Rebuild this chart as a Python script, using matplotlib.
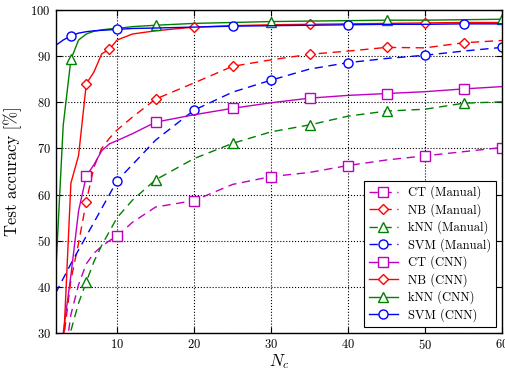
import matplotlib
matplotlib.use("Agg")
import matplotlib.pyplot as plt

plt.rcParams['font.family'] = ['cmr10', 'DejaVu Serif']
plt.rcParams['mathtext.fontset'] = 'cm'
plt.rcParams['axes.unicode_minus'] = False
plt.rcParams['axes.formatter.use_mathtext'] = True

# number of components N_c
n_c = [2, 3, 4, 5, 6, 7, 8, 9, 10, 12, 15, 20, 25, 30, 35, 40, 45, 50, 55, 60]

# test accuracy [%]
ct_manual = [10, 22, 34, 40.5, 45, 47.3, 48.8, 50, 51, 54, 57.3, 58.7, 62.2, 63.9, 64.8, 66.3, 67.5, 68.4, 69.3, 70.2]
nb_manual = [5, 28, 41.5, 49.5, 58.5, 66, 70, 72.2, 74, 76.8, 80.7, 84.2, 87.8, 89.2, 90.4, 91.1, 91.9, 91.8, 92.9, 93.4]
knn_manual = [0, 15, 30.5, 36.5, 41.1, 45.5, 49, 52, 55, 58.8, 63.2, 67.8, 71.1, 73.6, 75.1, 77, 78.1, 78.5, 79.8, 80.1]
svm_manual = [38.6, 41.8, 45, 48, 51, 54, 57, 60, 63, 66.5, 71.8, 78.3, 82.2, 84.8, 87.2, 88.6, 89.5, 90.2, 91.1, 91.9]
ct_cnn = [15, 30, 42.5, 56.5, 64, 66.5, 69.5, 71, 71.7, 73.2, 75.7, 77.3, 78.7, 79.9, 80.9, 81.5, 81.9, 82.3, 82.9, 83.4]
nb_cnn = [0, 26, 62.5, 68.5, 84, 86.6, 90.5, 91.5, 93.5, 94.8, 95.5, 96.3, 96.6, 96.8, 96.9, 97.0, 97.1, 97.2, 97.3, 97.3]
knn_cnn = [42, 75, 89.3, 93.5, 94.8, 95.4, 95.7, 95.9, 96.0, 96.4, 96.7, 97.1, 97.3, 97.5, 97.6, 97.7, 97.8, 97.8, 97.9, 98.0]
svm_cnn = [92.3, 93.5, 94.4, 95.0, 95.3, 95.5, 95.6, 95.7, 95.8, 96.0, 96.1, 96.3, 96.5, 96.6, 96.7, 96.8, 96.9, 96.9, 97.0, 97.0]

labels = ['CT (Manual)', 'NB (Manual)', 'kNN (Manual)', 'SVM (Manual)',
          'CT (CNN)', 'NB (CNN)', 'kNN (CNN)', 'SVM (CNN)']

series = [ct_manual, nb_manual, knn_manual, svm_manual, ct_cnn, nb_cnn, knn_cnn, svm_cnn]
colors = ['m', 'r', 'g', 'b', 'm', 'r', 'g', 'b']
markers = ['s', 'D', '^', 'o', 's', 'D', '^', 'o']
styles = ['--'] * 4 + ['-'] * 4
mark_idx = [[8, 11, 13, 15, 17, 19], [4, 10, 12, 14, 16, 18], [4, 10, 12, 14, 16, 18],
            [8, 11, 13, 15, 17, 19], [4, 10, 12, 14, 16, 18], [4, 7, 11, 14, 17],
            [2, 10, 13, 16, 19], [2, 8, 12, 15, 18]]

fig = plt.figure(figsize=(5.06, 3.71), dpi=100)
ax = fig.add_axes([0.1097, 0.1024, 0.8824, 0.8706])

for y, c, m, ls, me, lab in zip(series, colors, markers, styles, mark_idx, labels):
    ms = 5.5 if m == 'D' else 6.5
    ax.plot(n_c, y, color=c, ls=ls, lw=1.0, marker=m, ms=ms, mfc='w', mec=c,
            mew=1.0, markevery=me, label=lab, dashes=(6, 4) if ls == '--' else (None, None))

ax.set_xlim(2, 60)
ax.set_ylim(30, 100)
ax.set_xticks([10, 20, 30, 40, 50, 60])
ax.set_yticks([30, 40, 50, 60, 70, 80, 90, 100])
ax.grid(True, color='k', ls=':', lw=0.8)
ax.tick_params(direction='in', top=True, right=True, length=4, labelsize=9)
for s in ax.spines.values():
    s.set_linewidth(1.0)

ax.set_xlabel(r'$N_c$', fontsize=12, labelpad=0)
ax.set_ylabel('Test accuracy [%]', fontsize=12, labelpad=6)

leg = ax.legend(loc='lower right', fontsize=9, fancybox=False, framealpha=1,
                edgecolor='k', handlelength=2.3, labelspacing=0.3, borderaxespad=0.5)
leg.get_frame().set_linewidth(0.8)

fig.savefig('out.png', dpi=100)
